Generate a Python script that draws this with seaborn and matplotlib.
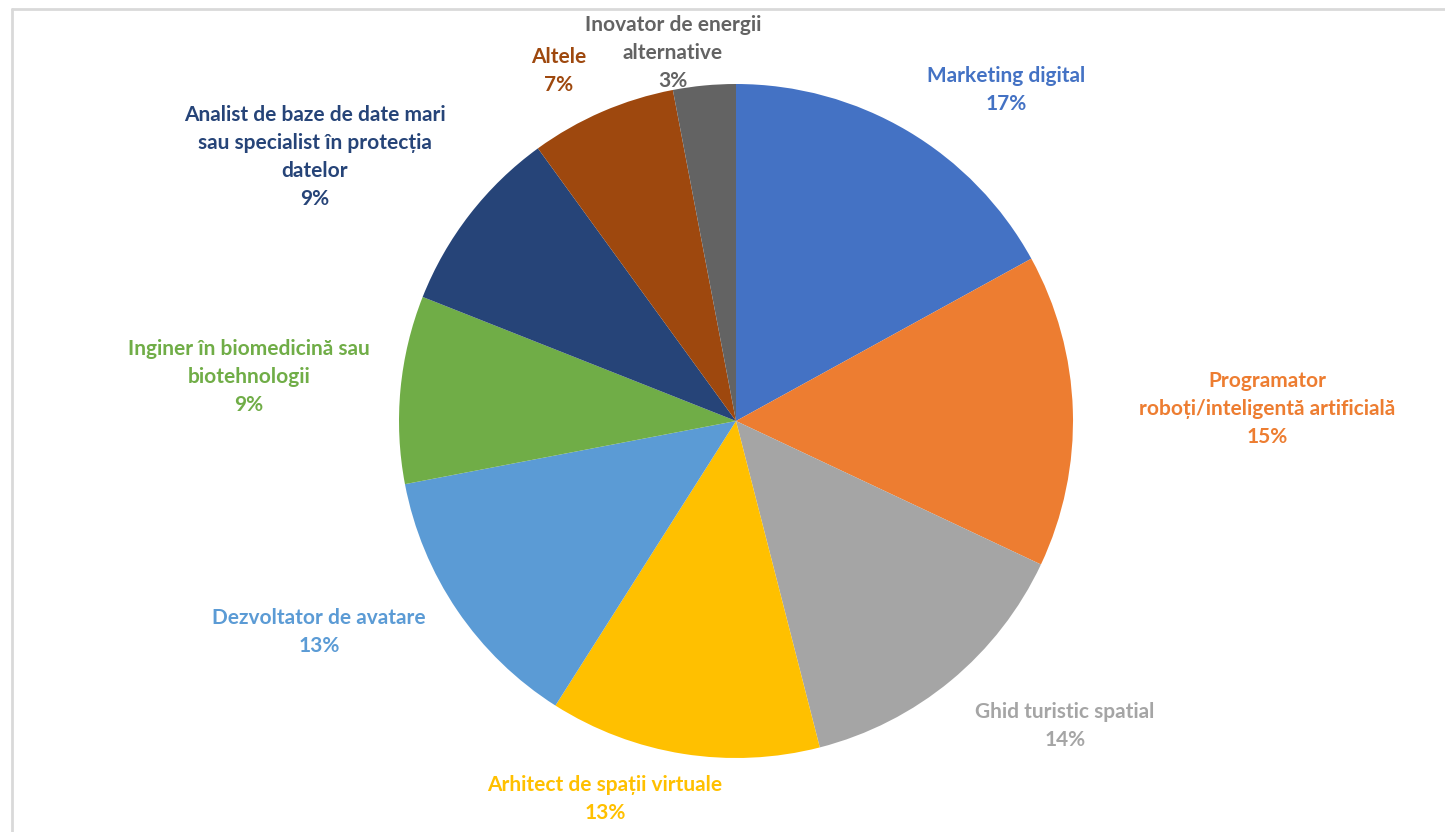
import matplotlib.pyplot as plt
from matplotlib.lines import Line2D
import seaborn as sns

# date: profesii ale viitorului (procente)
profesii = [
    "Marketing digital",
    "Programator\nroboți/inteligentă artificială",
    "Ghid turistic spatial",
    "Arhitect de spații virtuale",
    "Dezvoltator de avatare",
    "Inginer în biomedicină sau\nbiotehnologii",
    "Analist de baze de date mari\nsau specialist în protecția\ndatelor",
    "Altele",
    "Inovator de energii\nalternative",
]
procente = [17, 15, 14, 13, 13, 9, 9, 7, 3]
culori = ["#4472C4", "#ED7D31", "#A5A5A5", "#FFC000", "#5B9BD5",
          "#70AD47", "#264478", "#9E480E", "#636363"]

# pozitiile etichetelor (pixeli, origine jos-stanga)
eticheta_xy = [
    (1006, 742), (1267, 423), (1065, 106), (605, 33), (319, 200),
    (249, 455), (315, 675), (559, 761), (673, 779),
]

sns.set_theme(style="white")
plt.rcParams["font.family"] = ["Lato", "DejaVu Sans"]

fig = plt.figure(figsize=(14.45, 8.32), dpi=100)
ax = fig.add_axes([0, 0, 1, 1])
ax.set_xlim(0, 1445)
ax.set_ylim(0, 832)
ax.set_aspect("equal")
ax.axis("off")

# chenarul graficului
fig.add_artist(Line2D([12 / 1445, 1.0], [1 - 8.5 / 832, 1 - 8.5 / 832],
                      transform=fig.transFigure, color="#D9D9D9", lw=2))
fig.add_artist(Line2D([12 / 1445, 12 / 1445], [0, 1 - 8.5 / 832],
                      transform=fig.transFigure, color="#D9D9D9", lw=2))

ax.pie(procente, colors=culori, startangle=90, counterclock=False,
       center=(736, 411), radius=337,
       wedgeprops=dict(linewidth=0))
ax.set_xlim(0, 1445)
ax.set_ylim(0, 832)

for nume, p, c, (x, y) in zip(profesii, procente, culori, eticheta_xy):
    ax.text(x, y, f"{nume}\n{p}%", color=c, ha="center", va="center",
            fontsize=15, fontweight="bold", linespacing=1.48)

plt.savefig("out.png", dpi=100, facecolor="white")
plt.close()
